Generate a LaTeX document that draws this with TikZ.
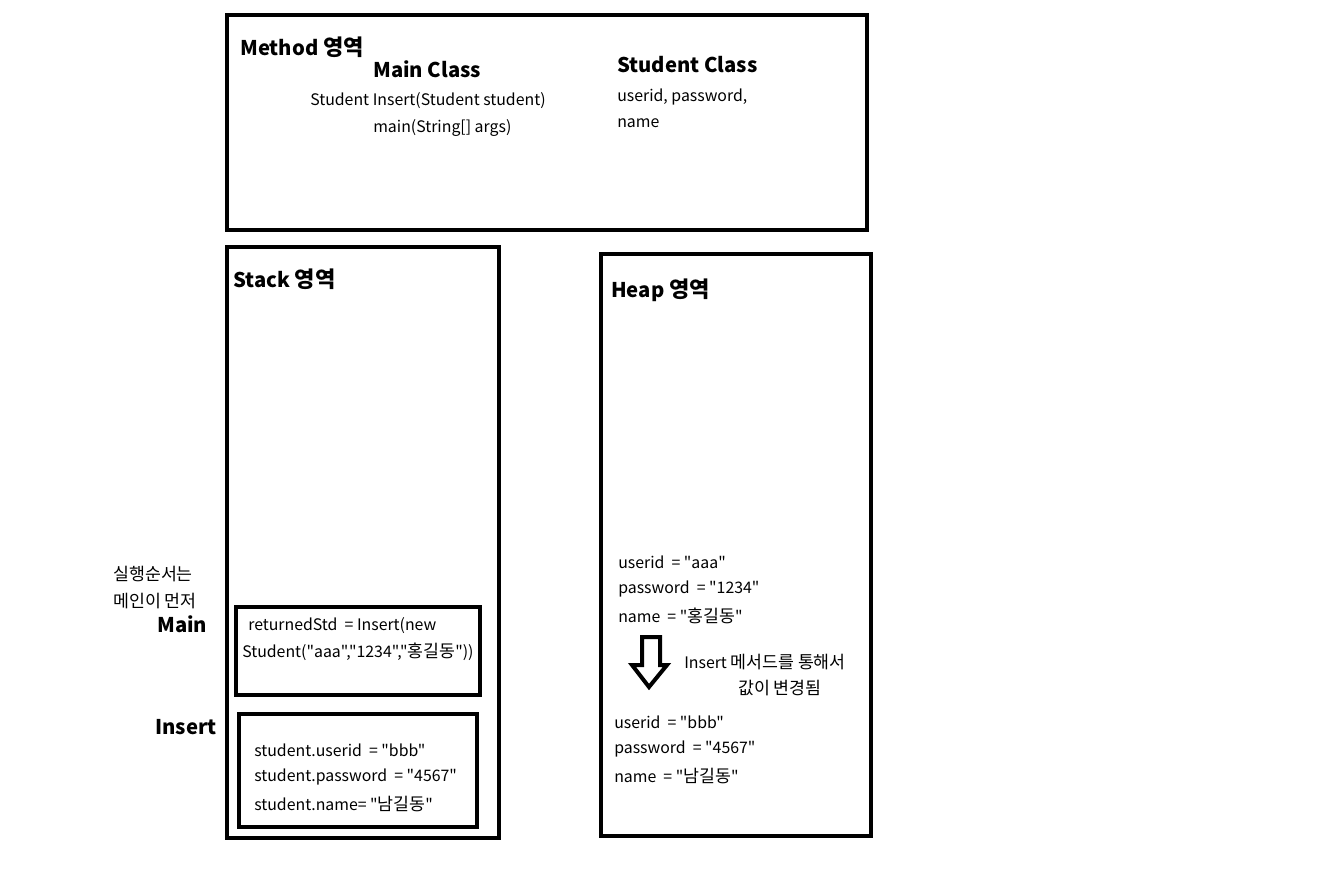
\documentclass[tikz,border=0pt]{standalone}
\usepackage{fontspec}
\setmainfont{Noto Sans CJK KR}[Ligatures=TeXOff]
\newfontfamily\kr{Noto Sans CJK KR}[Ligatures=TeXOff,Scale=1.09]
\begin{document}
\begin{tikzpicture}[x=0.75pt,y=-0.75pt,
  box/.style={draw=black,line width=3pt},
  txt/.style={anchor=west,inner sep=0pt,font=\fontsize{11.9}{13}\selectfont},
  head/.style={anchor=west,inner sep=0pt,font=\fontsize{15.2}{17}\selectfont\bfseries},
  hollowarrow/.style={draw=black,line width=3pt,line join=miter,fill=white}]
\useasboundingbox[fill=white] (0,0) rectangle (1328,873);
% boxes
\draw[box] (227,15) rectangle (867,230);
\draw[box] (227,247) rectangle (499,838);
\draw[box] (601,254) rectangle (871,836);
\draw[box] (236,607) rectangle (480,695);
\draw[box] (239,714) rectangle (477,827);
% method area
\node[head] (method) at (240,47) {Method {\kr 영역}};
\node[head] (mainclass) at (373,69) {Main Class};
\node[txt] (insertsig) at (310,101) {Student Insert(Student student)};
\node[txt] (mainsig) at (373,128) {main(String[] args)};
\node[head] (stdclass) at (617,65) {Student Class};
\node[txt] (fields1) at (617,97) {userid, password,};
\node[txt] (fields2) at (617,123) {name};
% stack
\node[head] (stack) at (233,279) {Stack {\kr 영역}};
\node[txt] (order1) at (113,574) {\kr 실행순서는};
\node[txt] (order2) at (113,601) {\kr 메인이 먼저};
\node[head] (mainlbl) at (157,624) {Main};
\node[head] (insertlbl) at (155,727) {Insert};
\node[txt] (ret1) at (248,626) {returnedStd~ = Insert(new};
\node[txt] (ret2) at (242,652) {Student("aaa","1234","{\kr 홍길동}"))};
\node[txt] (s1) at (254,750) {student.userid~ = "bbb"};
\node[txt] (s2) at (254,777) {student.password~ = "4567"};
\node[txt] (s3) at (254,804) {student.name= "{\kr 남길동}"};
% heap
\node[head] (heap) at (611,290) {Heap {\kr 영역}};
\node[txt] (h1) at (618,562) {userid~ = "aaa"};
\node[txt] (h2) at (618,589) {password~ = "1234"};
\node[txt] (h3) at (618,616) {name~ = "{\kr 홍길동}"};
\draw[hollowarrow] (642,637) -- (660,637) -- (660,665) -- (667,665) -- (649,687) -- (632,665) -- (642,665) -- cycle;
\node[txt] (note1) at (684,662) {Insert {\kr 메서드를 통해서}};
\node[txt] (note2) at (738,688) {\kr 값이 변경됨};
\node[txt] (n1) at (614,722) {userid~ = "bbb"};
\node[txt] (n2) at (614,749) {password~ = "4567"};
\node[txt] (n3) at (614,776) {name~ = "{\kr 남길동}"};
\end{tikzpicture}
\end{document}
